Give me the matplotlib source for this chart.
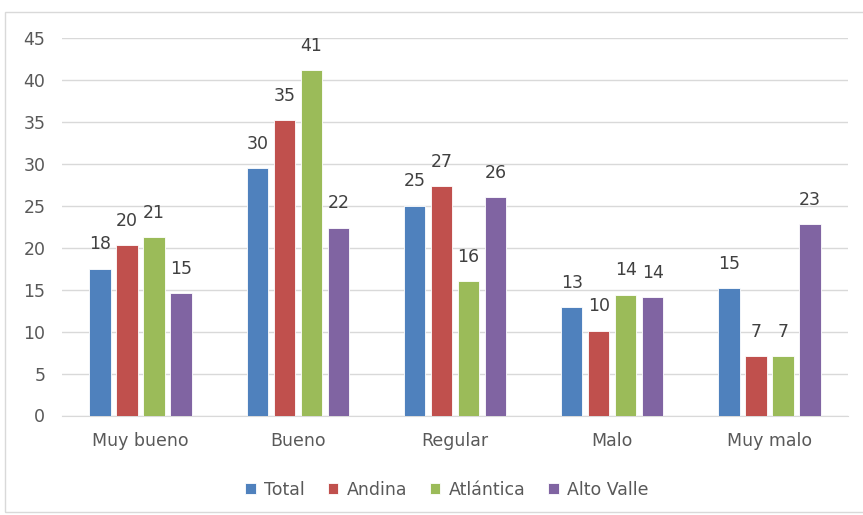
import matplotlib
matplotlib.use("Agg")
import matplotlib.pyplot as plt
import numpy as np
from matplotlib.patches import Rectangle

categories = ["Muy bueno", "Bueno", "Regular", "Malo", "Muy malo"]
series_names = ["Total", "Andina", "Atlántica", "Alto Valle"]
total = [17.5, 29.5, 25.0, 12.9, 15.2]
andina = [20.3, 35.2, 27.3, 10.1, 7.1]
atlantica = [21.3, 41.2, 16.0, 14.4, 7.1]
alto_valle = [14.6, 22.4, 26.0, 14.1, 22.8]
yticks = [0, 5, 10, 15, 20, 25, 30, 35, 40, 45]

colors = ["#4F81BD", "#C0504D", "#9BBB59", "#8064A2"]
plt.rcParams['font.family'] = ['DejaVu Sans']
FS = 12.5

fig = plt.figure(figsize=(8.63, 5.15), dpi=100)
ax = fig.add_axes([62/863, 1-415.5/515, 786/863, (415.5-38)/515])

x = np.arange(len(categories))
step = 0.172
width = 0.136
data = [total, andina, atlantica, alto_valle]
for i, (name, vals) in enumerate(zip(series_names, data)):
    pos = x + (i - 1.5) * step
    ax.bar(pos, vals, width, color=colors[i], label=name,
           edgecolor="white", linewidth=0.6, zorder=3)
    for p, v in zip(pos, vals):
        ax.annotate(f"{round(v):d}", (p, v), xytext=(0, 11), textcoords="offset points",
                    ha="center", va="bottom", fontsize=FS, color="#404040", zorder=4)

ax.set_xlim(-0.5, 4.5)
ax.set_ylim(0, 45)
ax.set_yticks(yticks)
ax.set_xticks(x)
ax.set_xticklabels(categories)
ax.yaxis.grid(True, color="#d9d9d9", linewidth=1, zorder=0)
ax.set_axisbelow(True)
for s in ["top", "right", "left"]:
    ax.spines[s].set_visible(False)
ax.spines["bottom"].set_color("#d9d9d9")
ax.tick_params(axis="both", length=0, labelsize=FS, labelcolor="#595959")
ax.tick_params(axis="y", pad=12)
ax.tick_params(axis="x", pad=12)

leg = fig.legend(loc="center", bbox_to_anchor=(447/863, 1-490/515), ncol=4,
                 frameon=False, fontsize=FS, handlelength=0.6, handleheight=0.6,
                 handletextpad=0.5, columnspacing=1.3, labelcolor="#595959")

fig.patches.append(Rectangle((5/863, 3/515), 1, 1-(12+3)/515, transform=fig.transFigure,
                             fill=False, edgecolor="#d9d9d9", linewidth=1))

fig.savefig("out.png", dpi=100)
